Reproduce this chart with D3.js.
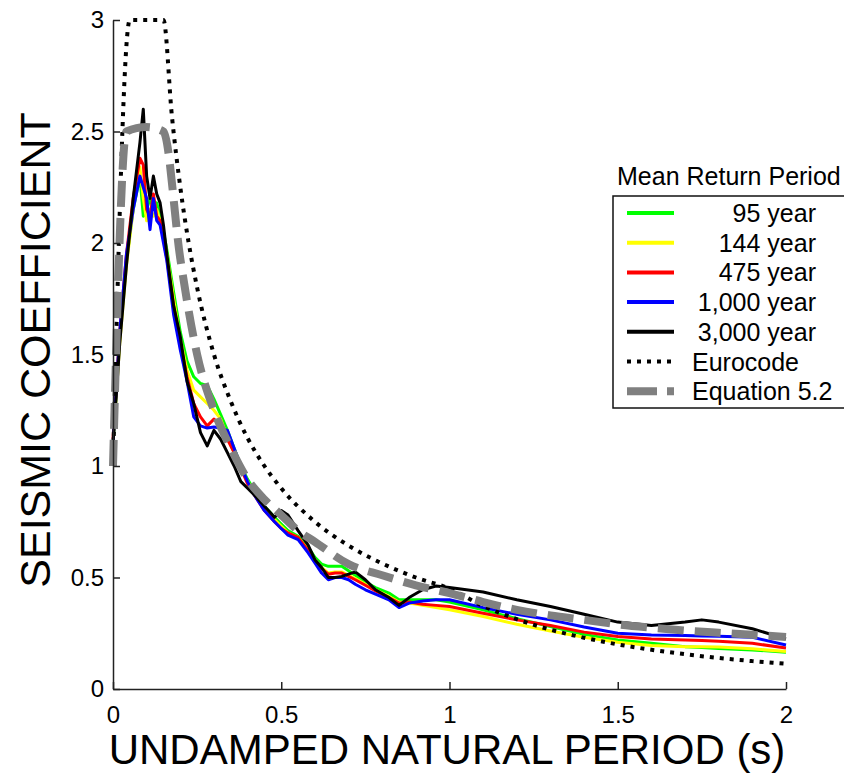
<!DOCTYPE html>
<html><head><meta charset="utf-8">
<script src="https://cdn.jsdelivr.net/npm/d3@7"></script>
<style>body{margin:0;background:#fff}</style>
</head><body>
<svg id="chart" width="844" height="774"></svg>
<script>
// ---------- data ----------
const periods = [0,0.02,0.04,0.06,0.08,0.09,0.1,0.11,0.12,0.13,0.14,0.15,0.16,0.18,0.2,0.22,0.24,0.26,0.28,0.3,0.32,0.34,0.36,0.38,0.4,0.42,0.45,0.48,0.5,0.52,0.55,0.58,0.6,0.62,0.64,0.66,0.68,0.7,0.72,0.75,0.78,0.82,0.85,0.88,0.92,0.96,1.0,1.1,1.2,1.3,1.4,1.5,1.6,1.7,1.75,1.8,1.9,2.0];
const rp95 = [1.1,1.58,1.92,2.15,2.3,2.12,2.15,2.2,2.15,2.18,2.12,2.05,1.97,1.78,1.6,1.47,1.40,1.37,1.36,1.3,1.23,1.16,1.08,1.0,0.94,0.89,0.82,0.77,0.74,0.71,0.685,0.635,0.59,0.56,0.55,0.55,0.55,0.53,0.51,0.48,0.455,0.43,0.40,0.40,0.40,0.40,0.39,0.355,0.315,0.28,0.245,0.22,0.205,0.19,0.186,0.182,0.175,0.165];
const rp144 = [1.1,1.55,1.9,2.15,2.34,2.2,2.1,2.15,2.12,2.15,2.1,2.04,1.95,1.75,1.57,1.43,1.34,1.31,1.28,1.25,1.21,1.13,1.06,0.99,0.93,0.88,0.81,0.76,0.73,0.70,0.68,0.625,0.58,0.545,0.52,0.525,0.525,0.51,0.495,0.47,0.445,0.415,0.39,0.385,0.375,0.365,0.355,0.325,0.29,0.26,0.232,0.21,0.195,0.19,0.19,0.188,0.18,0.168];
const rp475 = [1.12,1.6,1.95,2.2,2.38,2.35,2.15,2.12,2.22,2.12,2.1,2.02,1.93,1.72,1.55,1.4,1.28,1.22,1.18,1.21,1.18,1.12,1.06,0.99,0.92,0.87,0.80,0.75,0.72,0.70,0.68,0.62,0.575,0.54,0.515,0.52,0.52,0.505,0.49,0.465,0.44,0.41,0.385,0.39,0.38,0.375,0.37,0.34,0.31,0.285,0.255,0.235,0.224,0.22,0.218,0.214,0.205,0.184];
const rp1000 = [1.1,1.6,1.95,2.15,2.3,2.25,2.2,2.06,2.2,2.1,2.08,2.0,1.92,1.68,1.52,1.38,1.22,1.18,1.17,1.175,1.17,1.16,1.08,1.0,0.93,0.87,0.80,0.75,0.72,0.69,0.67,0.61,0.565,0.52,0.49,0.50,0.50,0.49,0.47,0.445,0.425,0.40,0.365,0.385,0.395,0.40,0.40,0.365,0.335,0.31,0.278,0.25,0.242,0.24,0.238,0.236,0.232,0.197];
const rp3000 = [1.1,1.55,1.9,2.2,2.45,2.6,2.3,2.2,2.3,2.22,2.18,2.08,1.95,1.72,1.58,1.38,1.28,1.15,1.09,1.16,1.12,1.06,1.0,0.93,0.9,0.87,0.82,0.77,0.80,0.78,0.71,0.645,0.58,0.545,0.50,0.50,0.505,0.515,0.525,0.49,0.445,0.41,0.375,0.41,0.445,0.462,0.455,0.435,0.40,0.37,0.335,0.30,0.285,0.30,0.31,0.30,0.27,0.225];
const eurocodeT = [0,0.05,0.15,0.175,0.2,0.225,0.25,0.3,0.35,0.4,0.45,0.5,0.6,0.7,0.8,0.9,1.0,1.1,1.2,1.3,1.4,1.5,1.6,1.7,1.8,1.9,2.0];
const eurocodeV = [1.0,3.0,3.0,2.57,2.25,2.0,1.8,1.5,1.29,1.125,1.0,0.9,0.75,0.643,0.563,0.5,0.45,0.372,0.313,0.266,0.23,0.2,0.176,0.156,0.139,0.125,0.113];
const eqT = [0,0.04,0.1,0.15,0.2,0.25,0.3,0.35,0.4,0.45,0.5,0.55,0.6,0.7,0.8,0.9,1.0,1.1,1.2,1.3,1.4,1.5,1.6,1.7,1.8,1.9,2.0];
const eqV = [1.0,2.5,2.52,2.5,1.93,1.5,1.25,1.08,0.94,0.85,0.78,0.71,0.66,0.56,0.51,0.465,0.43,0.39,0.355,0.33,0.31,0.29,0.275,0.262,0.252,0.243,0.233];
const xTicks = [0,0.5,1,1.5,2];
const yTicks = [0,0.5,1,1.5,2,2.5,3];
const seriesNames = ["95 year","144 year","475 year","1,000 year","3,000 year"];
const seriesColors = ["#00ff00","#ffff00","#ff0000","#0000ff","#000000"];
const seriesValues = [rp95, rp144, rp475, rp1000, rp3000];
const legendTitle = "Mean Return Period";
const xTitle = "UNDAMPED NATURAL PERIOD (s)";
const yTitle = "SEISMIC COEFFICIENT";

// ---------- chart ----------
const FONT = "'Liberation Sans', Arial, sans-serif";
const svg = d3.select("#chart");
const x = d3.scaleLinear().domain([0,2]).range([113,786]);
const y = d3.scaleLinear().domain([0,3]).range([689,20]);

const plot = svg.append("g");
const line = d3.line().x(d=>x(d[0])).y(d=>y(d[1]));
const smooth = d3.line().x(d=>x(d[0])).y(d=>y(d[1])).curve(d3.curveMonotoneX);

seriesValues.forEach((vals,i)=>{
  plot.append("path")
    .datum(periods.map((t,j)=>[t,vals[j]]))
    .attr("d", line).attr("fill","none")
    .attr("stroke", seriesColors[i]).attr("stroke-width",3)
    .attr("stroke-linejoin","round");
});
plot.append("path")
  .datum(eurocodeT.map((t,j)=>[t,eurocodeV[j]]))
  .attr("d", smooth).attr("fill","none")
  .attr("stroke","#000").attr("stroke-width",4).attr("stroke-dasharray","4,6");
plot.append("path")
  .datum(eqT.map((t,j)=>[t,eqV[j]]))
  .attr("d", smooth).attr("fill","none")
  .attr("stroke","#808080").attr("stroke-width",8).attr("stroke-dasharray","26,11");

// axes
const xAxis = d3.axisBottom(x).tickValues(xTicks).tickFormat(d=>String(d))
  .tickSizeInner(-7).tickSizeOuter(0).tickPadding(17);
const yAxis = d3.axisLeft(y).tickValues(yTicks).tickFormat(d=>String(d))
  .tickSizeInner(-7).tickSizeOuter(0).tickPadding(9);
const gx = svg.append("g").attr("transform","translate(0,689)").call(xAxis);
const gy = svg.append("g").attr("transform","translate(113,0)").call(yAxis);
[gx,gy].forEach(g=>{
  g.selectAll("path,line").attr("stroke","#222").attr("stroke-width",1.5);
  g.selectAll("text").attr("font-family",FONT).attr("font-size",24).attr("fill","#000");
});

svg.append("text").attr("x",447).attr("y",764).attr("text-anchor","middle")
  .attr("font-family",FONT).attr("font-size",42).text(xTitle);
svg.append("text").attr("transform","translate(50,350) rotate(-90)").attr("text-anchor","middle")
  .attr("font-family",FONT).attr("font-size",43).text(yTitle);

// legend
const LF = 25;
const lg = svg.append("g");
lg.append("text").attr("x",617).attr("y",185).attr("font-family",FONT).attr("font-size",LF).text(legendTitle);
lg.append("rect").attr("x",613).attr("y",196).attr("width",233).attr("height",212)
  .attr("fill","#fff").attr("stroke","#111").attr("stroke-width",1.5);
const rowY = i => 213 + i*29.7;
seriesNames.forEach((n,i)=>{
  lg.append("line").attr("x1",627).attr("x2",674).attr("y1",rowY(i)).attr("y2",rowY(i))
    .attr("stroke",seriesColors[i]).attr("stroke-width",4);
  lg.append("text").attr("x",816).attr("y",rowY(i)).attr("dy","0.36em").attr("text-anchor","end")
    .attr("font-family",FONT).attr("font-size",LF).text(n);
});
lg.append("line").attr("x1",627).attr("x2",674).attr("y1",rowY(5)).attr("y2",rowY(5))
  .attr("stroke","#000").attr("stroke-width",4).attr("stroke-dasharray","4,6");
lg.append("text").attr("x",692).attr("y",rowY(5)).attr("dy","0.36em")
  .attr("font-family",FONT).attr("font-size",LF).text("Eurocode");
lg.append("line").attr("x1",627).attr("x2",674).attr("y1",rowY(6)).attr("y2",rowY(6))
  .attr("stroke","#808080").attr("stroke-width",8).attr("stroke-dasharray","30,10");
lg.append("text").attr("x",692).attr("y",rowY(6)).attr("dy","0.36em")
  .attr("font-family",FONT).attr("font-size",LF).text("Equation 5.2");
</script>
</body></html>
